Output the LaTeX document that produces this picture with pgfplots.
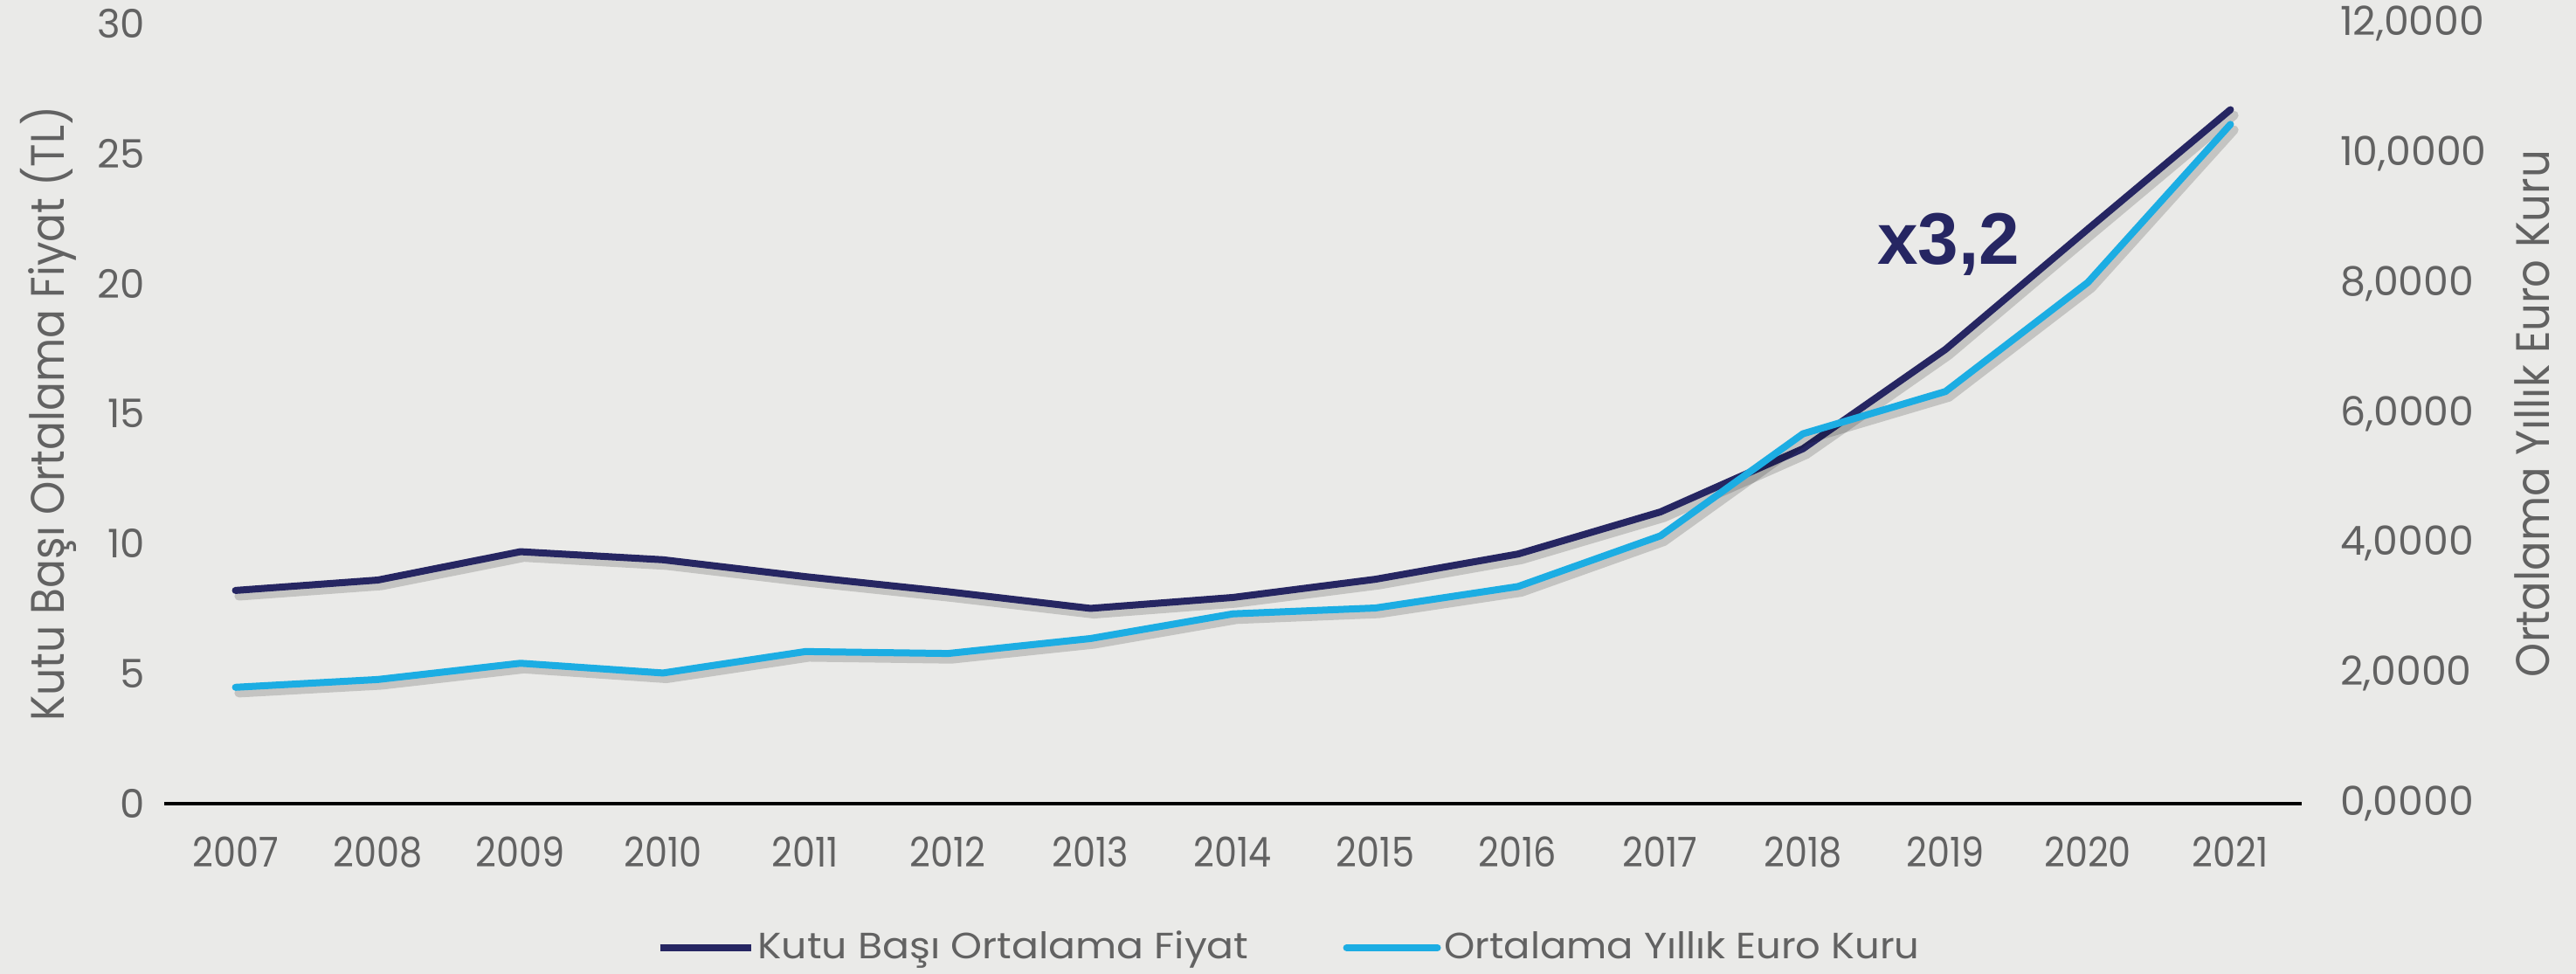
\documentclass[border=0pt]{standalone}
\usepackage{fontspec}
\usepackage{graphicx}
\setmainfont{Poppins}
\newfontfamily\yearfont{Poppins}[FakeStretch=0.88]
\newfontfamily\arialfont{Liberation Sans}
\usepackage{pgfplots}
\pgfplotsset{compat=1.18}
\definecolor{bg}{RGB}{234,234,232}
\definecolor{txt}{RGB}{98,98,98}
\definecolor{navy}{RGB}{38,38,98}
\definecolor{sky}{RGB}{28,173,227}
\newcommand{\fitw}[3]{\resizebox{#1}{\height}{\fontsize{#2}{#2}\selectfont #3}}

\pgfplotstableread{
year price
2007 8.20
2008 8.60
2009 9.69
2010 9.38
2011 8.73
2012 8.15
2013 7.51
2014 7.93
2015 8.63
2016 9.60
2017 11.22
2018 13.65
2019 17.47
2020 22.10
2021 26.69
}\pricetable

\pgfplotstableread{
year euro
2007 1.79
2008 1.91
2009 2.16
2010 2.01
2011 2.34
2012 2.31
2013 2.54
2014 2.92
2015 3.01
2016 3.34
2017 4.12
2018 5.69
2019 6.34
2020 8.02
2021 10.45
}\eurotable

\begin{document}
\begin{tikzpicture}
\fill[bg] (-47bp,-48.75bp) rectangle (690.25bp,230bp);
\path[use as bounding box] (-47bp,-48.75bp) rectangle (690.25bp,230bp);
\begin{axis}[
  scale only axis, width=611.75bp, height=223.25bp,
  xmin=2006.5, xmax=2021.5, ymin=0, ymax=30,
  axis x line*=bottom, axis y line*=left,
  x axis line style={black, line width=1bp, -},
  y axis line style={draw=none},
  major tick length=0pt,
  xtick={2007,...,2021},
  ytick={0,5,...,30},
  tick label style={text=txt},
  /pgf/number format/assume math mode=true,
  x tick label style={font=\yearfont\fontsize{11.8}{13}\selectfont, /pgf/number format/1000 sep={}, yshift=-6bp},
  y tick label style={font=\fontsize{11.3}{13}\selectfont, xshift=-2bp},
  ylabel={\fitw{176bp}{13.5}{Kutu Başı Ortalama Fiyat (TL)}},
  ylabel style={at={(axis description cs:-0.054,0.5)}, anchor=center, text=txt},
  clip=false,
]
\addplot[black, opacity=0.16, line width=2.6bp, line join=round, line cap=round, xshift=1bp, yshift=-1.6bp] table[x=year, y=price] {\pricetable};
\addplot[navy, line width=2bp, line join=round, line cap=round] table[x=year, y=price] {\pricetable};
\node[anchor=base, text=navy, font=\arialfont\bfseries\fontsize{21}{24}\selectfont] at (axis cs:2019.02,20.73) {x3,2};
\end{axis}
\begin{axis}[
  scale only axis, width=611.75bp, height=223.25bp,
  xmin=2006.5, xmax=2021.5, ymin=0, ymax=12,
  axis x line=none, axis y line*=right,
  y axis line style={draw=none},
  major tick length=0pt,
  ytick={0,2,...,12},
  tick label style={font=\fontsize{11.5}{13}\selectfont, text=txt},
  /pgf/number format/fixed,
  /pgf/number format/fixed zerofill,
  /pgf/number format/precision=4,
  /pgf/number format/use comma,
  /pgf/number format/1000 sep={},
  /pgf/number format/assume math mode=true,
  yticklabel style={anchor=west, xshift=7.5bp},
  ylabel={\fitw{150.75bp}{13.5}{Ortalama Yıllık Euro Kuru}},
  ylabel style={at={(axis description cs:1.108,0.5)}, anchor=center, text=txt},
  legend columns=2,
  legend style={at={(axis description cs:0.5266,-0.1848)}, anchor=center, draw=none, fill=none,
    text=txt, nodes={inner sep=1bp},
    /tikz/every even column/.append style={column sep=26bp}},
  legend image code/.code={\draw[#1] (0bp,0bp) -- (26bp,0bp);},
  clip=false,
]
\addlegendimage{navy, line width=2bp}
\addlegendentry{\fitw{140.5bp}{10.5}{Kutu Başı Ortalama Fiyat}}
\addplot[black, opacity=0.16, line width=2.6bp, line join=round, line cap=round, xshift=1bp, yshift=-1.6bp, forget plot] table[x=year, y=euro] {\eurotable};
\addplot[sky, line width=2bp, line join=round, line cap=round] table[x=year, y=euro] {\eurotable};
\addlegendentry{\fitw{136bp}{10.5}{Ortalama Yıllık Euro Kuru}}
\end{axis}
\end{tikzpicture}
\end{document}
